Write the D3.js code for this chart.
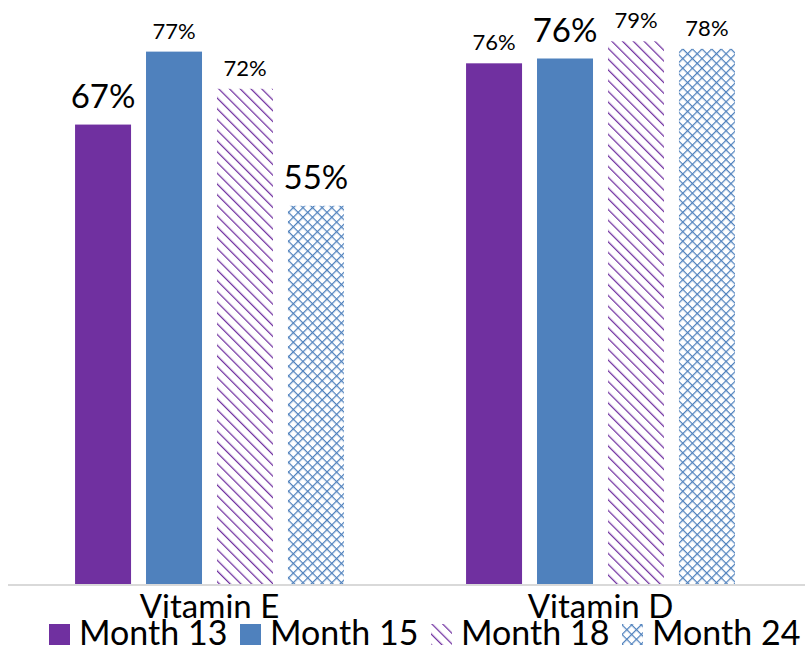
<!DOCTYPE html>
<html>
<head>
<meta charset="utf-8">
<script src="https://cdn.jsdelivr.net/npm/d3@7"></script>
<style>
  body { margin: 0; background: #fff; }
  text { font-family: Lato, "Open Sans", sans-serif; fill: #000; }
</style>
</head>
<body>
<div id="chart"></div>
<script>
const width = 808;
const height = 648;

const categories = ["Vitamin E", "Vitamin D"];
const seriesNames = ["Month 13", "Month 15", "Month 18", "Month 24"];
const month13 = [66.9, 75.8];
const month15 = [77.5, 76.5];
const month18 = [72.1, 79.0];
const month24 = [55.1, 77.9];
const labels13 = ["67%", "76%"];
const labels15 = ["77%", "76%"];
const labels18 = ["72%", "79%"];
const labels24 = ["55%", "78%"];

// labels drawn bigger in the original
const bigLabels = ["Vitamin E|Month 13", "Vitamin E|Month 24", "Vitamin D|Month 15"];

const seriesValues = [month13, month15, month18, month24];
const seriesLabels = [labels13, labels15, labels18, labels24];
const fills = ["#7030a0", "#4f81bd", "url(#hatch18)", "url(#cross24)"];

const rows = [];
categories.forEach((c, i) => {
    seriesNames.forEach((s, j) => {
        rows.push({ cat: c, series: s, value: seriesValues[j][i], label: seriesLabels[j][i], fill: fills[j] });
    });
});

const svg = d3.select("#chart")
    .append("svg")
    .attr("width", width)
    .attr("height", height);

const defs = svg.append("defs");

const hatch = defs.append("pattern")
    .attr("id", "hatch18")
    .attr("patternUnits", "userSpaceOnUse")
    .attr("width", 7.6)
    .attr("height", 7.6)
    .attr("patternTransform", "rotate(-45)");
hatch.append("rect").attr("width", 7.6).attr("height", 7.6).attr("fill", "#fff");
hatch.append("line")
    .attr("x1", 0.6).attr("y1", 0).attr("x2", 0.6).attr("y2", 7.6)
    .attr("stroke", "#7030a0").attr("stroke-width", 1.3);

const cross = defs.append("pattern")
    .attr("id", "cross24")
    .attr("patternUnits", "userSpaceOnUse")
    .attr("width", 6.8)
    .attr("height", 6.8)
    .attr("patternTransform", "rotate(45)");
cross.append("rect").attr("width", 6.8).attr("height", 6.8).attr("fill", "#fff");
cross.append("path")
    .attr("d", "M0.6,0V6.8M0,0.6H6.8")
    .attr("stroke", "#4f81bd").attr("stroke-width", 1.3)
    .attr("fill", "none");

const x0 = d3.scaleBand()
    .domain(categories)
    .range([14, 796])
    .paddingInner(0.274)
    .paddingOuter(0.137);

const x1 = d3.scaleBand()
    .domain(seriesNames)
    .range([0, x0.bandwidth()])
    .paddingInner(0.211)
    .paddingOuter(0.1055);

const y = d3.scaleLinear()
    .domain([0, 85])
    .range([585, 0]);

svg.append("g")
    .selectAll("rect")
    .data(rows)
    .join("rect")
    .attr("x", d => x0(d.cat) + x1(d.series))
    .attr("y", d => y(d.value))
    .attr("width", x1.bandwidth())
    .attr("height", d => y(0) - y(d.value))
    .attr("fill", d => d.fill);

svg.append("g")
    .selectAll("text")
    .data(rows)
    .join("text")
    .attr("x", d => x0(d.cat) + x1(d.series) + x1.bandwidth() / 2)
    .attr("y", d => y(d.value) - (bigLabels.includes(d.cat + "|" + d.series) ? 17 : 13))
    .attr("text-anchor", "middle")
    .attr("font-size", d => bigLabels.includes(d.cat + "|" + d.series) ? 33 : 22)
    .text(d => d.label);

// category axis
const xAxis = svg.append("g")
    .attr("transform", `translate(0,${y(0)})`)
    .call(d3.axisBottom(x0).tickSize(0).tickPadding(33));
xAxis.select(".domain")
    .attr("d", "M8,0H805")
    .attr("stroke", "#d9d9d9")
    .attr("stroke-width", 2);
xAxis.selectAll("text")
    .attr("font-size", 33)
    .attr("font-family", "Lato, sans-serif")
    .attr("fill", "#000")
    .attr("dy", 0);

// legend
const legendX = [49, 240, 431, 622];
const legend = svg.append("g");
seriesNames.forEach((s, j) => {
    const g = legend.append("g").attr("transform", `translate(${legendX[j]},624)`);
    g.append("rect")
        .attr("width", 21).attr("height", 21)
        .attr("fill", fills[j]);
    g.append("text")
        .attr("x", 30).attr("y", 21)
        .attr("font-size", 34)
        .text(s);
});
</script>
</body>
</html>
